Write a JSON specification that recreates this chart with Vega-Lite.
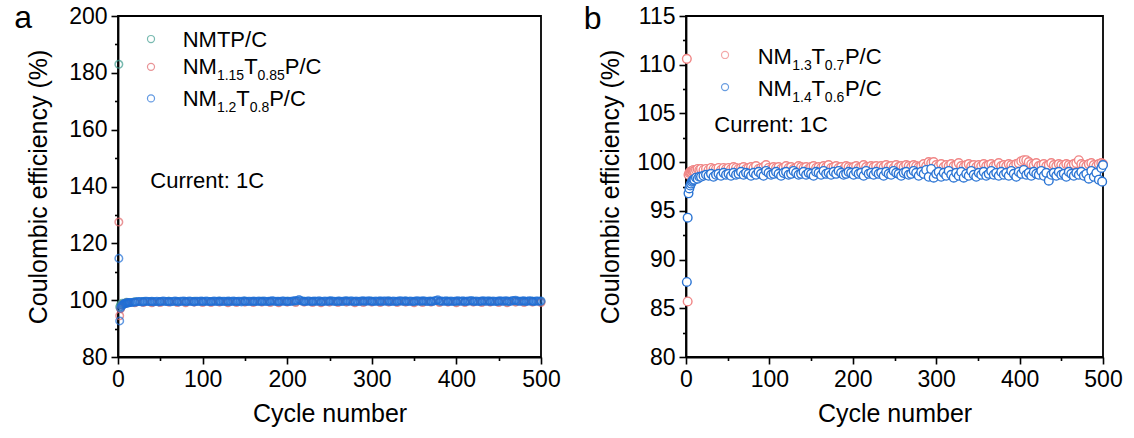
{
"$schema":"https://vega.github.io/schema/vega-lite/v6.json",
"padding":{"left":13,"top":1,"right":5,"bottom":5},
"spacing":20,
"config":{"font":"Liberation Sans","view":{"stroke":"black","strokeWidth":1.8},
"axis":{"domainColor":"black","domainWidth":1.8,"tickColor":"black","tickWidth":1.6,"labelFont":"Liberation Sans","labelFontSize":23,"labelColor":"black","titleFont":"Liberation Sans","titleFontSize":25,"titleFontWeight":"normal","titleColor":"black","grid":false,"labelFlush":false,"labelOverlap":false,"labelPadding":4},
"axisX":{"titlePadding":10},"axisY":{"titlePadding":13}},
"datasets":{
"a":[
{"s":"NMTP","c":1,"v":183.0},{"s":"NMTP","c":2,"v":97.6},{"s":"NMTP","c":3,"v":98.4},{"s":"NMTP","c":5,"v":98.9},
{"s":"NMTP","c":10,"v":99.3},{"s":"NMTP","c":20,"v":99.4},{"s":"NMTP","c":30,"v":99.5},{"s":"NMTP","c":40,"v":99.4},{"s":"NMTP","c":50,"v":99.5},{"s":"NMTP","c":60,"v":99.6},{"s":"NMTP","c":70,"v":99.5},{"s":"NMTP","c":80,"v":99.4},{"s":"NMTP","c":90,"v":99.6},{"s":"NMTP","c":100,"v":99.5},
{"s":"NMTP","c":110,"v":99.5},{"s":"NMTP","c":120,"v":99.6},{"s":"NMTP","c":130,"v":99.4},{"s":"NMTP","c":140,"v":99.5},{"s":"NMTP","c":150,"v":99.6},{"s":"NMTP","c":160,"v":99.5},{"s":"NMTP","c":170,"v":99.6},{"s":"NMTP","c":180,"v":99.5},{"s":"NMTP","c":190,"v":99.4},{"s":"NMTP","c":200,"v":99.6},
{"s":"NMTP","c":210,"v":99.5},{"s":"NMTP","c":220,"v":99.6},{"s":"NMTP","c":230,"v":99.5},{"s":"NMTP","c":240,"v":99.4},{"s":"NMTP","c":250,"v":99.6},{"s":"NMTP","c":260,"v":99.5},{"s":"NMTP","c":270,"v":99.6},{"s":"NMTP","c":280,"v":99.4},{"s":"NMTP","c":290,"v":99.5},{"s":"NMTP","c":300,"v":99.6},
{"s":"NMTP","c":310,"v":99.5},{"s":"NMTP","c":320,"v":99.6},{"s":"NMTP","c":330,"v":99.5},{"s":"NMTP","c":340,"v":99.6},{"s":"NMTP","c":350,"v":99.4},{"s":"NMTP","c":360,"v":99.5},{"s":"NMTP","c":370,"v":99.6},{"s":"NMTP","c":380,"v":99.5},{"s":"NMTP","c":390,"v":99.6},{"s":"NMTP","c":400,"v":99.4},
{"s":"NMTP","c":410,"v":99.5},{"s":"NMTP","c":420,"v":99.6},{"s":"NMTP","c":430,"v":99.5},{"s":"NMTP","c":440,"v":99.6},{"s":"NMTP","c":450,"v":99.5},{"s":"NMTP","c":460,"v":99.4},{"s":"NMTP","c":470,"v":99.6},{"s":"NMTP","c":480,"v":99.5},{"s":"NMTP","c":490,"v":99.6},{"s":"NMTP","c":500,"v":99.5},
{"s":"M115","c":1,"v":127.5},{"s":"M115","c":2,"v":94.5},{"s":"M115","c":3,"v":97.0},{"s":"M115","c":5,"v":98.3},{"s":"M115","c":8,"v":98.8},
{"s":"M115","c":10,"v":99.0},{"s":"M115","c":20,"v":99.1},{"s":"M115","c":30,"v":99.2},{"s":"M115","c":40,"v":99.1},{"s":"M115","c":50,"v":99.2},{"s":"M115","c":60,"v":99.3},{"s":"M115","c":70,"v":99.2},{"s":"M115","c":80,"v":99.1},{"s":"M115","c":90,"v":99.3},{"s":"M115","c":100,"v":99.2},
{"s":"M115","c":110,"v":99.2},{"s":"M115","c":120,"v":99.3},{"s":"M115","c":130,"v":99.1},{"s":"M115","c":140,"v":99.2},{"s":"M115","c":150,"v":99.3},{"s":"M115","c":160,"v":99.2},{"s":"M115","c":170,"v":99.3},{"s":"M115","c":180,"v":99.2},{"s":"M115","c":190,"v":99.1},{"s":"M115","c":200,"v":99.3},
{"s":"M115","c":210,"v":99.2},{"s":"M115","c":220,"v":99.3},{"s":"M115","c":230,"v":99.2},{"s":"M115","c":240,"v":99.1},{"s":"M115","c":250,"v":99.3},{"s":"M115","c":260,"v":99.2},{"s":"M115","c":270,"v":99.3},{"s":"M115","c":280,"v":99.1},{"s":"M115","c":290,"v":99.2},{"s":"M115","c":300,"v":99.3},
{"s":"M115","c":310,"v":99.2},{"s":"M115","c":320,"v":99.3},{"s":"M115","c":330,"v":99.2},{"s":"M115","c":340,"v":99.3},{"s":"M115","c":350,"v":99.1},{"s":"M115","c":360,"v":99.2},{"s":"M115","c":370,"v":99.3},{"s":"M115","c":380,"v":99.2},{"s":"M115","c":390,"v":99.3},{"s":"M115","c":400,"v":99.1},
{"s":"M115","c":410,"v":99.2},{"s":"M115","c":420,"v":99.3},{"s":"M115","c":430,"v":99.2},{"s":"M115","c":440,"v":99.3},{"s":"M115","c":450,"v":99.2},{"s":"M115","c":460,"v":99.1},{"s":"M115","c":470,"v":99.3},{"s":"M115","c":480,"v":99.2},{"s":"M115","c":490,"v":99.3},{"s":"M115","c":500,"v":99.2},
{"s":"M12","c":1,"v":114.7},{"s":"M12","c":2,"v":92.7},{"s":"M12","c":3,"v":97.2},{"s":"M12","c":4,"v":97.8},{"s":"M12","c":5,"v":98.2},{"s":"M12","c":6,"v":98.5},{"s":"M12","c":7,"v":98.7},{"s":"M12","c":8,"v":98.8},{"s":"M12","c":9,"v":98.9},{"s":"M12","c":10,"v":99.0},{"s":"M12","c":11,"v":99.0},{"s":"M12","c":12,"v":99.1},{"s":"M12","c":13,"v":99.1},{"s":"M12","c":14,"v":99.2},{"s":"M12","c":16,"v":99.2},{"s":"M12","c":18,"v":99.3},{"s":"M12","c":20,"v":99.3},
{"s":"M12","c":22,"v":99.4},{"s":"M12","c":26,"v":99.5},{"s":"M12","c":30,"v":99.4},{"s":"M12","c":34,"v":99.6},{"s":"M12","c":38,"v":99.5},{"s":"M12","c":42,"v":99.4},{"s":"M12","c":46,"v":99.6},{"s":"M12","c":50,"v":99.5},{"s":"M12","c":54,"v":99.7},{"s":"M12","c":58,"v":99.5},
{"s":"M12","c":62,"v":99.4},{"s":"M12","c":66,"v":99.6},{"s":"M12","c":70,"v":99.5},{"s":"M12","c":74,"v":99.6},{"s":"M12","c":78,"v":99.7},{"s":"M12","c":82,"v":99.5},{"s":"M12","c":86,"v":99.6},{"s":"M12","c":90,"v":99.4},{"s":"M12","c":94,"v":99.6},{"s":"M12","c":98,"v":99.7},
{"s":"M12","c":102,"v":99.5},{"s":"M12","c":106,"v":99.6},{"s":"M12","c":110,"v":99.5},{"s":"M12","c":114,"v":99.7},{"s":"M12","c":118,"v":99.6},{"s":"M12","c":122,"v":99.5},{"s":"M12","c":126,"v":99.6},{"s":"M12","c":130,"v":99.7},{"s":"M12","c":134,"v":99.5},{"s":"M12","c":138,"v":99.6},
{"s":"M12","c":142,"v":99.6},{"s":"M12","c":146,"v":99.4},{"s":"M12","c":150,"v":99.7},{"s":"M12","c":154,"v":99.6},{"s":"M12","c":158,"v":99.5},{"s":"M12","c":162,"v":99.6},{"s":"M12","c":166,"v":99.7},{"s":"M12","c":170,"v":99.5},{"s":"M12","c":174,"v":99.6},{"s":"M12","c":178,"v":99.6},
{"s":"M12","c":182,"v":99.8},{"s":"M12","c":186,"v":99.5},{"s":"M12","c":190,"v":99.6},{"s":"M12","c":194,"v":99.7},{"s":"M12","c":198,"v":99.5},{"s":"M12","c":202,"v":99.6},{"s":"M12","c":206,"v":99.7},{"s":"M12","c":210,"v":99.9},{"s":"M12","c":214,"v":100.2},{"s":"M12","c":218,"v":99.6},
{"s":"M12","c":222,"v":99.5},{"s":"M12","c":226,"v":99.7},{"s":"M12","c":230,"v":99.6},{"s":"M12","c":234,"v":99.6},{"s":"M12","c":238,"v":99.8},{"s":"M12","c":242,"v":99.5},{"s":"M12","c":246,"v":99.6},{"s":"M12","c":250,"v":99.7},{"s":"M12","c":254,"v":99.6},{"s":"M12","c":258,"v":99.5},
{"s":"M12","c":262,"v":99.7},{"s":"M12","c":266,"v":99.6},{"s":"M12","c":270,"v":99.8},{"s":"M12","c":274,"v":99.6},{"s":"M12","c":278,"v":99.5},{"s":"M12","c":282,"v":99.7},{"s":"M12","c":286,"v":99.6},{"s":"M12","c":290,"v":99.8},{"s":"M12","c":294,"v":99.6},{"s":"M12","c":298,"v":99.7},
{"s":"M12","c":302,"v":99.5},{"s":"M12","c":306,"v":99.6},{"s":"M12","c":310,"v":99.8},{"s":"M12","c":314,"v":99.7},{"s":"M12","c":318,"v":99.6},{"s":"M12","c":322,"v":99.5},{"s":"M12","c":326,"v":99.7},{"s":"M12","c":330,"v":99.6},{"s":"M12","c":334,"v":99.8},{"s":"M12","c":338,"v":99.6},
{"s":"M12","c":342,"v":99.5},{"s":"M12","c":346,"v":99.7},{"s":"M12","c":350,"v":99.6},{"s":"M12","c":354,"v":99.8},{"s":"M12","c":358,"v":99.6},{"s":"M12","c":362,"v":99.7},{"s":"M12","c":366,"v":99.5},{"s":"M12","c":370,"v":99.6},{"s":"M12","c":374,"v":99.8},{"s":"M12","c":378,"v":100.1},
{"s":"M12","c":382,"v":99.7},{"s":"M12","c":386,"v":99.6},{"s":"M12","c":390,"v":99.5},{"s":"M12","c":394,"v":99.7},{"s":"M12","c":398,"v":99.6},{"s":"M12","c":402,"v":99.8},{"s":"M12","c":406,"v":99.6},{"s":"M12","c":410,"v":99.5},{"s":"M12","c":414,"v":99.7},{"s":"M12","c":418,"v":99.9},
{"s":"M12","c":422,"v":99.6},{"s":"M12","c":426,"v":99.5},{"s":"M12","c":430,"v":99.7},{"s":"M12","c":434,"v":99.6},{"s":"M12","c":438,"v":99.8},{"s":"M12","c":442,"v":99.6},{"s":"M12","c":446,"v":99.5},{"s":"M12","c":450,"v":99.7},{"s":"M12","c":454,"v":99.6},{"s":"M12","c":458,"v":99.8},
{"s":"M12","c":462,"v":99.6},{"s":"M12","c":466,"v":99.9},{"s":"M12","c":470,"v":100.0},{"s":"M12","c":474,"v":99.6},{"s":"M12","c":478,"v":99.7},{"s":"M12","c":482,"v":99.5},{"s":"M12","c":486,"v":99.8},{"s":"M12","c":490,"v":99.6},{"s":"M12","c":494,"v":99.7},{"s":"M12","c":498,"v":99.6},{"s":"M12","c":500,"v":99.7},
{"s":"M12","c":24,"v":99.5},{"s":"M12","c":28,"v":99.4},{"s":"M12","c":32,"v":99.6},{"s":"M12","c":36,"v":99.5},{"s":"M12","c":40,"v":99.6},{"s":"M12","c":44,"v":99.5},{"s":"M12","c":48,"v":99.4},{"s":"M12","c":52,"v":99.6},{"s":"M12","c":56,"v":99.5},{"s":"M12","c":60,"v":99.6},
{"s":"M12","c":64,"v":99.5},{"s":"M12","c":68,"v":99.7},{"s":"M12","c":72,"v":99.4},{"s":"M12","c":76,"v":99.6},{"s":"M12","c":80,"v":99.5},{"s":"M12","c":84,"v":99.7},{"s":"M12","c":88,"v":99.5},{"s":"M12","c":92,"v":99.6},{"s":"M12","c":96,"v":99.5},{"s":"M12","c":100,"v":99.6},
{"s":"M12","c":104,"v":99.7},{"s":"M12","c":108,"v":99.5},{"s":"M12","c":112,"v":99.6},{"s":"M12","c":116,"v":99.5},{"s":"M12","c":120,"v":99.7},{"s":"M12","c":124,"v":99.6},{"s":"M12","c":128,"v":99.5},{"s":"M12","c":132,"v":99.6},{"s":"M12","c":136,"v":99.7},{"s":"M12","c":140,"v":99.5},
{"s":"M12","c":144,"v":99.6},{"s":"M12","c":148,"v":99.7},{"s":"M12","c":152,"v":99.5},{"s":"M12","c":156,"v":99.6},{"s":"M12","c":160,"v":99.7},{"s":"M12","c":164,"v":99.5},{"s":"M12","c":168,"v":99.6},{"s":"M12","c":172,"v":99.7},{"s":"M12","c":176,"v":99.5},{"s":"M12","c":180,"v":99.6},
{"s":"M12","c":184,"v":99.7},{"s":"M12","c":188,"v":99.6},{"s":"M12","c":192,"v":99.5},{"s":"M12","c":196,"v":99.7},{"s":"M12","c":200,"v":99.6},{"s":"M12","c":204,"v":99.5},{"s":"M12","c":208,"v":99.7},{"s":"M12","c":212,"v":99.8},{"s":"M12","c":216,"v":99.9},{"s":"M12","c":220,"v":99.6},
{"s":"M12","c":224,"v":99.7},{"s":"M12","c":228,"v":99.5},{"s":"M12","c":232,"v":99.7},{"s":"M12","c":236,"v":99.6},{"s":"M12","c":240,"v":99.5},{"s":"M12","c":244,"v":99.7},{"s":"M12","c":248,"v":99.6},{"s":"M12","c":252,"v":99.8},{"s":"M12","c":256,"v":99.6},{"s":"M12","c":260,"v":99.7},
{"s":"M12","c":264,"v":99.5},{"s":"M12","c":268,"v":99.7},{"s":"M12","c":272,"v":99.6},{"s":"M12","c":276,"v":99.8},{"s":"M12","c":280,"v":99.6},{"s":"M12","c":284,"v":99.5},{"s":"M12","c":288,"v":99.7},{"s":"M12","c":292,"v":99.6},{"s":"M12","c":296,"v":99.8},{"s":"M12","c":300,"v":99.6},
{"s":"M12","c":304,"v":99.7},{"s":"M12","c":308,"v":99.6},{"s":"M12","c":312,"v":99.5},{"s":"M12","c":316,"v":99.7},{"s":"M12","c":320,"v":99.8},{"s":"M12","c":324,"v":99.6},{"s":"M12","c":328,"v":99.5},{"s":"M12","c":332,"v":99.7},{"s":"M12","c":336,"v":99.6},{"s":"M12","c":340,"v":99.8},
{"s":"M12","c":344,"v":99.6},{"s":"M12","c":348,"v":99.5},{"s":"M12","c":352,"v":99.7},{"s":"M12","c":356,"v":99.6},{"s":"M12","c":360,"v":99.8},{"s":"M12","c":364,"v":99.6},{"s":"M12","c":368,"v":99.7},{"s":"M12","c":372,"v":99.5},{"s":"M12","c":376,"v":99.9},{"s":"M12","c":380,"v":99.7},
{"s":"M12","c":384,"v":99.6},{"s":"M12","c":388,"v":99.8},{"s":"M12","c":392,"v":99.6},{"s":"M12","c":396,"v":99.5},{"s":"M12","c":400,"v":99.7},{"s":"M12","c":404,"v":99.6},{"s":"M12","c":408,"v":99.8},{"s":"M12","c":412,"v":99.6},{"s":"M12","c":416,"v":99.7},{"s":"M12","c":420,"v":99.5},
{"s":"M12","c":424,"v":99.7},{"s":"M12","c":428,"v":99.6},{"s":"M12","c":432,"v":99.8},{"s":"M12","c":436,"v":99.6},{"s":"M12","c":440,"v":99.5},{"s":"M12","c":444,"v":99.7},{"s":"M12","c":448,"v":99.6},{"s":"M12","c":452,"v":99.8},{"s":"M12","c":456,"v":99.6},{"s":"M12","c":460,"v":99.7},
{"s":"M12","c":464,"v":99.5},{"s":"M12","c":468,"v":99.8},{"s":"M12","c":472,"v":99.7},{"s":"M12","c":476,"v":99.6},{"s":"M12","c":480,"v":99.8},{"s":"M12","c":484,"v":99.6},{"s":"M12","c":488,"v":99.7},{"s":"M12","c":492,"v":99.5},{"s":"M12","c":496,"v":99.7}
],
"b":[
{"s":"M13","c":1,"v":110.6},{"s":"M13","c":2,"v":85.7},{"s":"M13","c":3,"v":98.7},{"s":"M13","c":4,"v":98.9},{"s":"M13","c":5,"v":99.0},{"s":"M13","c":6,"v":99.0},{"s":"M13","c":7,"v":99.1},{"s":"M13","c":8,"v":99.1},{"s":"M13","c":9,"v":99.2},{"s":"M13","c":10,"v":99.1},{"s":"M13","c":12,"v":99.2},{"s":"M13","c":14,"v":99.3},{"s":"M13","c":16,"v":99.2},{"s":"M13","c":18,"v":99.3},
{"s":"M13","c":21,"v":99.2},{"s":"M13","c":24,"v":99.3},{"s":"M13","c":27,"v":99.2},{"s":"M13","c":30,"v":99.4},{"s":"M13","c":33,"v":99.3},{"s":"M13","c":36,"v":99.3},{"s":"M13","c":39,"v":99.4},{"s":"M13","c":42,"v":99.2},{"s":"M13","c":45,"v":99.4},{"s":"M13","c":48,"v":99.3},
{"s":"M13","c":51,"v":99.4},{"s":"M13","c":54,"v":99.3},{"s":"M13","c":57,"v":99.5},{"s":"M13","c":60,"v":99.4},{"s":"M13","c":63,"v":99.3},{"s":"M13","c":66,"v":99.4},{"s":"M13","c":69,"v":99.5},{"s":"M13","c":72,"v":99.3},{"s":"M13","c":75,"v":99.4},{"s":"M13","c":78,"v":99.5},
{"s":"M13","c":81,"v":99.4},{"s":"M13","c":84,"v":99.6},{"s":"M13","c":87,"v":99.3},{"s":"M13","c":90,"v":99.4},{"s":"M13","c":93,"v":99.5},{"s":"M13","c":96,"v":99.7},{"s":"M13","c":99,"v":99.4},{"s":"M13","c":102,"v":99.3},{"s":"M13","c":105,"v":99.5},{"s":"M13","c":108,"v":99.4},
{"s":"M13","c":111,"v":99.5},{"s":"M13","c":114,"v":99.3},{"s":"M13","c":117,"v":99.4},{"s":"M13","c":120,"v":99.6},{"s":"M13","c":123,"v":99.4},{"s":"M13","c":126,"v":99.5},{"s":"M13","c":129,"v":99.3},{"s":"M13","c":132,"v":99.4},{"s":"M13","c":135,"v":99.6},{"s":"M13","c":138,"v":99.5},
{"s":"M13","c":141,"v":99.4},{"s":"M13","c":144,"v":99.5},{"s":"M13","c":147,"v":99.3},{"s":"M13","c":150,"v":99.5},{"s":"M13","c":153,"v":99.6},{"s":"M13","c":156,"v":99.4},{"s":"M13","c":159,"v":99.5},{"s":"M13","c":162,"v":99.4},{"s":"M13","c":165,"v":99.6},{"s":"M13","c":168,"v":99.5},
{"s":"M13","c":171,"v":99.7},{"s":"M13","c":174,"v":99.4},{"s":"M13","c":177,"v":99.5},{"s":"M13","c":180,"v":99.6},{"s":"M13","c":183,"v":99.4},{"s":"M13","c":186,"v":99.5},{"s":"M13","c":189,"v":99.3},{"s":"M13","c":192,"v":99.6},{"s":"M13","c":195,"v":99.5},{"s":"M13","c":198,"v":99.4},
{"s":"M13","c":201,"v":99.5},{"s":"M13","c":204,"v":99.6},{"s":"M13","c":207,"v":99.4},{"s":"M13","c":210,"v":99.5},{"s":"M13","c":213,"v":99.7},{"s":"M13","c":216,"v":99.5},{"s":"M13","c":219,"v":99.4},{"s":"M13","c":222,"v":99.6},{"s":"M13","c":225,"v":99.5},{"s":"M13","c":228,"v":99.6},
{"s":"M13","c":231,"v":99.4},{"s":"M13","c":234,"v":99.6},{"s":"M13","c":237,"v":99.5},{"s":"M13","c":240,"v":99.7},{"s":"M13","c":243,"v":99.5},{"s":"M13","c":246,"v":99.6},{"s":"M13","c":249,"v":99.4},{"s":"M13","c":252,"v":99.7},{"s":"M13","c":255,"v":99.5},{"s":"M13","c":258,"v":99.6},
{"s":"M13","c":261,"v":99.5},{"s":"M13","c":264,"v":99.7},{"s":"M13","c":267,"v":99.6},{"s":"M13","c":270,"v":99.5},{"s":"M13","c":273,"v":99.7},{"s":"M13","c":276,"v":99.6},{"s":"M13","c":279,"v":99.5},{"s":"M13","c":282,"v":99.6},{"s":"M13","c":285,"v":99.8},{"s":"M13","c":288,"v":99.6},
{"s":"M13","c":291,"v":100.0},{"s":"M13","c":294,"v":99.9},{"s":"M13","c":297,"v":100.0},{"s":"M13","c":300,"v":99.7},{"s":"M13","c":303,"v":99.6},{"s":"M13","c":306,"v":99.8},{"s":"M13","c":309,"v":99.5},{"s":"M13","c":312,"v":99.7},{"s":"M13","c":315,"v":99.6},{"s":"M13","c":318,"v":99.8},
{"s":"M13","c":321,"v":99.6},{"s":"M13","c":324,"v":99.7},{"s":"M13","c":327,"v":99.9},{"s":"M13","c":330,"v":99.6},{"s":"M13","c":333,"v":99.5},{"s":"M13","c":336,"v":99.7},{"s":"M13","c":339,"v":99.8},{"s":"M13","c":342,"v":99.6},{"s":"M13","c":345,"v":99.7},{"s":"M13","c":348,"v":99.5},
{"s":"M13","c":351,"v":99.7},{"s":"M13","c":354,"v":99.6},{"s":"M13","c":357,"v":99.8},{"s":"M13","c":360,"v":99.6},{"s":"M13","c":363,"v":99.7},{"s":"M13","c":366,"v":99.8},{"s":"M13","c":369,"v":99.6},{"s":"M13","c":372,"v":99.7},{"s":"M13","c":375,"v":99.9},{"s":"M13","c":378,"v":99.6},
{"s":"M13","c":381,"v":99.7},{"s":"M13","c":384,"v":99.6},{"s":"M13","c":387,"v":99.8},{"s":"M13","c":390,"v":99.7},{"s":"M13","c":393,"v":99.6},{"s":"M13","c":396,"v":99.8},{"s":"M13","c":399,"v":99.9},{"s":"M13","c":402,"v":100.1},{"s":"M13","c":405,"v":100.2},{"s":"M13","c":408,"v":100.2},
{"s":"M13","c":411,"v":100.0},{"s":"M13","c":414,"v":99.8},{"s":"M13","c":417,"v":99.7},{"s":"M13","c":420,"v":99.9},{"s":"M13","c":423,"v":99.6},{"s":"M13","c":426,"v":99.7},{"s":"M13","c":429,"v":99.8},{"s":"M13","c":432,"v":99.6},{"s":"M13","c":435,"v":99.7},{"s":"M13","c":438,"v":99.9},
{"s":"M13","c":441,"v":99.7},{"s":"M13","c":444,"v":99.6},{"s":"M13","c":447,"v":99.8},{"s":"M13","c":450,"v":99.7},{"s":"M13","c":453,"v":99.6},{"s":"M13","c":456,"v":99.8},{"s":"M13","c":459,"v":99.7},{"s":"M13","c":462,"v":99.6},{"s":"M13","c":465,"v":99.8},{"s":"M13","c":468,"v":99.9},
{"s":"M13","c":471,"v":100.2},{"s":"M13","c":474,"v":99.8},{"s":"M13","c":477,"v":99.7},{"s":"M13","c":480,"v":99.6},{"s":"M13","c":483,"v":99.8},{"s":"M13","c":486,"v":99.9},{"s":"M13","c":489,"v":99.7},{"s":"M13","c":492,"v":99.6},{"s":"M13","c":495,"v":99.8},{"s":"M13","c":498,"v":99.9},{"s":"M13","c":500,"v":99.8},
{"s":"M14","c":1,"v":87.7},{"s":"M14","c":2,"v":94.3},{"s":"M14","c":3,"v":96.8},{"s":"M14","c":4,"v":97.3},{"s":"M14","c":5,"v":97.6},{"s":"M14","c":6,"v":97.8},{"s":"M14","c":7,"v":98.0},{"s":"M14","c":8,"v":98.1},{"s":"M14","c":9,"v":98.2},{"s":"M14","c":10,"v":98.2},{"s":"M14","c":12,"v":98.4},{"s":"M14","c":14,"v":98.3},{"s":"M14","c":16,"v":98.5},{"s":"M14","c":18,"v":98.5},
{"s":"M14","c":21,"v":98.6},{"s":"M14","c":24,"v":98.7},{"s":"M14","c":27,"v":98.6},{"s":"M14","c":30,"v":98.8},{"s":"M14","c":33,"v":98.5},{"s":"M14","c":36,"v":98.7},{"s":"M14","c":39,"v":98.8},{"s":"M14","c":42,"v":98.6},{"s":"M14","c":45,"v":98.9},{"s":"M14","c":48,"v":98.7},
{"s":"M14","c":51,"v":98.8},{"s":"M14","c":54,"v":98.6},{"s":"M14","c":57,"v":98.9},{"s":"M14","c":60,"v":98.7},{"s":"M14","c":63,"v":98.8},{"s":"M14","c":66,"v":99.0},{"s":"M14","c":69,"v":98.7},{"s":"M14","c":72,"v":98.9},{"s":"M14","c":75,"v":98.8},{"s":"M14","c":78,"v":98.6},
{"s":"M14","c":81,"v":98.9},{"s":"M14","c":84,"v":98.7},{"s":"M14","c":87,"v":99.0},{"s":"M14","c":90,"v":98.8},{"s":"M14","c":93,"v":98.6},{"s":"M14","c":96,"v":99.1},{"s":"M14","c":99,"v":98.9},{"s":"M14","c":102,"v":98.7},{"s":"M14","c":105,"v":98.8},{"s":"M14","c":108,"v":99.0},
{"s":"M14","c":111,"v":98.8},{"s":"M14","c":114,"v":98.6},{"s":"M14","c":117,"v":98.9},{"s":"M14","c":120,"v":99.0},{"s":"M14","c":123,"v":98.7},{"s":"M14","c":126,"v":98.8},{"s":"M14","c":129,"v":99.1},{"s":"M14","c":132,"v":98.9},{"s":"M14","c":135,"v":98.7},{"s":"M14","c":138,"v":98.8},
{"s":"M14","c":141,"v":99.0},{"s":"M14","c":144,"v":98.7},{"s":"M14","c":147,"v":98.9},{"s":"M14","c":150,"v":98.8},{"s":"M14","c":153,"v":98.6},{"s":"M14","c":156,"v":99.0},{"s":"M14","c":159,"v":98.9},{"s":"M14","c":162,"v":98.7},{"s":"M14","c":165,"v":99.1},{"s":"M14","c":168,"v":98.8},
{"s":"M14","c":171,"v":98.9},{"s":"M14","c":174,"v":98.7},{"s":"M14","c":177,"v":99.0},{"s":"M14","c":180,"v":98.8},{"s":"M14","c":183,"v":99.1},{"s":"M14","c":186,"v":98.9},{"s":"M14","c":189,"v":98.7},{"s":"M14","c":192,"v":98.8},{"s":"M14","c":195,"v":99.0},{"s":"M14","c":198,"v":98.9},
{"s":"M14","c":201,"v":98.7},{"s":"M14","c":204,"v":99.0},{"s":"M14","c":207,"v":98.8},{"s":"M14","c":210,"v":98.9},{"s":"M14","c":213,"v":98.6},{"s":"M14","c":216,"v":99.1},{"s":"M14","c":219,"v":98.8},{"s":"M14","c":222,"v":98.9},{"s":"M14","c":225,"v":98.7},{"s":"M14","c":228,"v":99.0},
{"s":"M14","c":231,"v":98.8},{"s":"M14","c":234,"v":98.9},{"s":"M14","c":237,"v":98.6},{"s":"M14","c":240,"v":99.0},{"s":"M14","c":243,"v":98.8},{"s":"M14","c":246,"v":98.7},{"s":"M14","c":249,"v":99.1},{"s":"M14","c":252,"v":98.9},{"s":"M14","c":255,"v":98.8},{"s":"M14","c":258,"v":98.6},
{"s":"M14","c":261,"v":98.9},{"s":"M14","c":264,"v":99.0},{"s":"M14","c":267,"v":98.7},{"s":"M14","c":270,"v":98.8},{"s":"M14","c":273,"v":99.1},{"s":"M14","c":276,"v":98.9},{"s":"M14","c":279,"v":98.6},{"s":"M14","c":282,"v":99.0},{"s":"M14","c":285,"v":98.8},{"s":"M14","c":288,"v":99.2},
{"s":"M14","c":291,"v":98.5},{"s":"M14","c":294,"v":99.3},{"s":"M14","c":297,"v":98.4},{"s":"M14","c":300,"v":98.8},{"s":"M14","c":303,"v":99.0},{"s":"M14","c":306,"v":98.5},{"s":"M14","c":309,"v":98.9},{"s":"M14","c":312,"v":98.6},{"s":"M14","c":315,"v":99.1},{"s":"M14","c":318,"v":98.7},
{"s":"M14","c":321,"v":98.4},{"s":"M14","c":324,"v":98.9},{"s":"M14","c":327,"v":98.6},{"s":"M14","c":330,"v":99.0},{"s":"M14","c":333,"v":98.4},{"s":"M14","c":336,"v":98.8},{"s":"M14","c":339,"v":98.6},{"s":"M14","c":342,"v":99.1},{"s":"M14","c":345,"v":98.7},{"s":"M14","c":348,"v":98.5},
{"s":"M14","c":351,"v":98.9},{"s":"M14","c":354,"v":98.7},{"s":"M14","c":357,"v":99.0},{"s":"M14","c":360,"v":98.6},{"s":"M14","c":363,"v":98.8},{"s":"M14","c":366,"v":99.1},{"s":"M14","c":369,"v":98.7},{"s":"M14","c":372,"v":98.9},{"s":"M14","c":375,"v":98.6},{"s":"M14","c":378,"v":99.0},
{"s":"M14","c":381,"v":98.7},{"s":"M14","c":384,"v":98.9},{"s":"M14","c":387,"v":98.6},{"s":"M14","c":390,"v":99.1},{"s":"M14","c":393,"v":98.8},{"s":"M14","c":396,"v":98.5},{"s":"M14","c":399,"v":99.0},{"s":"M14","c":402,"v":98.8},{"s":"M14","c":405,"v":99.2},{"s":"M14","c":408,"v":98.7},
{"s":"M14","c":411,"v":98.9},{"s":"M14","c":414,"v":98.6},{"s":"M14","c":417,"v":99.0},{"s":"M14","c":420,"v":98.8},{"s":"M14","c":423,"v":98.7},{"s":"M14","c":426,"v":99.1},{"s":"M14","c":429,"v":98.6},{"s":"M14","c":432,"v":98.9},{"s":"M14","c":435,"v":98.1},{"s":"M14","c":438,"v":98.7},
{"s":"M14","c":441,"v":98.9},{"s":"M14","c":444,"v":98.6},{"s":"M14","c":447,"v":99.0},{"s":"M14","c":450,"v":98.7},{"s":"M14","c":453,"v":98.8},{"s":"M14","c":456,"v":98.5},{"s":"M14","c":459,"v":99.0},{"s":"M14","c":462,"v":98.8},{"s":"M14","c":465,"v":98.6},{"s":"M14","c":468,"v":98.9},
{"s":"M14","c":471,"v":98.7},{"s":"M14","c":474,"v":99.0},{"s":"M14","c":477,"v":98.6},{"s":"M14","c":480,"v":98.8},{"s":"M14","c":483,"v":98.3},{"s":"M14","c":486,"v":99.1},{"s":"M14","c":489,"v":98.5},{"s":"M14","c":492,"v":98.9},{"s":"M14","c":495,"v":98.2},{"s":"M14","c":498,"v":99.4},{"s":"M14","c":499,"v":98.0},{"s":"M14","c":500,"v":99.7}
],
"ma":[{"s":"NMTP","c":39.0,"v":191.9},{"s":"M115","c":39.0,"v":182.1},{"s":"M12","c":39.0,"v":171.0}],
"mb":[{"s":"M13","c":46.8,"v":111.0},{"s":"M14","c":46.8,"v":107.7}],
"la":[
{"c":76.5,"v":189.2,"t":"NMTP/C","k":"m"},
{"c":76.5,"v":179.6,"t":"NM","k":"m"},{"c":116.9,"v":177.5,"t":"1.15","k":"s"},{"c":149.1,"v":179.6,"t":"T","k":"m"},{"c":164.9,"v":177.5,"t":"0.85","k":"s"},{"c":197.1,"v":179.6,"t":"P/C","k":"m"},
{"c":76.5,"v":168.3,"t":"NM","k":"m"},{"c":116.9,"v":166.3,"t":"1.2","k":"s"},{"c":139.9,"v":168.3,"t":"T","k":"m"},{"c":155.7,"v":166.3,"t":"0.8","k":"s"},{"c":178.7,"v":168.3,"t":"P/C","k":"m"},
{"c":38.2,"v":139.4,"t":"Current: 1C","k":"m"},
{"c":-112,"v":195.8,"t":"a","k":"L"}],
"lb":[
{"c":86.0,"v":110.09,"t":"NM","k":"m"},{"c":127.5,"v":109.41,"t":"1.3","k":"s"},{"c":150.5,"v":110.09,"t":"T","k":"m"},{"c":166.5,"v":109.41,"t":"0.7","k":"s"},{"c":190.5,"v":110.09,"t":"P/C","k":"m"},
{"c":86.0,"v":106.84,"t":"NM","k":"m"},{"c":127.5,"v":106.15,"t":"1.4","k":"s"},{"c":150.5,"v":106.84,"t":"T","k":"m"},{"c":166.5,"v":106.15,"t":"0.6","k":"s"},{"c":190.5,"v":106.84,"t":"P/C","k":"m"},
{"c":33.9,"v":103.06,"t":"Current: 1C","k":"m"},
{"c":-112,"v":113.66,"t":"b","k":"L"}]
},
"hconcat":[
{"width":423,"height":341,
"encoding":{
"x":{"field":"c","type":"quantitative","scale":{"domain":[0,500],"nice":false,"zero":false},
"axis":{"title":"Cycle number","values":[0,50,100,150,200,250,300,350,400,450,500],"labelExpr":"datum.value % 100 == 0 ? datum.label : ''","tickSize":{"condition":{"test":"datum.value % 100 != 0","value":3.5},"value":7}}},
"y":{"field":"v","type":"quantitative","scale":{"domain":[80,200],"nice":false,"zero":false},
"axis":{"title":"Coulombic efficiency (%)","titlePadding":17,"values":[80,90,100,110,120,130,140,150,160,170,180,190,200],"labelExpr":"datum.value % 20 == 0 ? datum.label : ''","tickSize":{"condition":{"test":"datum.value % 20 != 0","value":3.5},"value":7}}}},
"layer":[
{"data":{"name":"a"},"mark":{"type":"point","shape":"circle","size":57,"strokeWidth":1.5,"filled":false},
"encoding":{"stroke":{"field":"s","type":"nominal","scale":{"domain":["NMTP","M115","M12","M13","M14"],"range":["#3f9d8f","#e0676b","#1f6ed6","#f08585","#2a74d4"]},"legend":null}}},
{"data":{"name":"ma"},"mark":{"type":"point","shape":"circle","size":50,"strokeWidth":1.2,"filled":false},
"encoding":{"stroke":{"field":"s","type":"nominal","legend":null}}},
{"data":{"name":"la"},"transform":[{"filter":"datum.k == 'm'"}],"mark":{"type":"text","align":"left","baseline":"alphabetic","fontSize":22,"color":"black"},"encoding":{"text":{"field":"t"}}},
{"data":{"name":"la"},"transform":[{"filter":"datum.k == 's'"}],"mark":{"type":"text","align":"left","baseline":"alphabetic","fontSize":14,"color":"black"},"encoding":{"text":{"field":"t"}}},
{"data":{"name":"la"},"transform":[{"filter":"datum.k == 'L'"}],"mark":{"type":"text","align":"center","baseline":"alphabetic","fontSize":32,"color":"black"},"encoding":{"text":{"field":"t"}}}
]},
{"width":417,"height":341,
"encoding":{
"x":{"field":"c","type":"quantitative","scale":{"domain":[0,500],"nice":false,"zero":false},
"axis":{"title":"Cycle number","values":[0,50,100,150,200,250,300,350,400,450,500],"labelExpr":"datum.value % 100 == 0 ? datum.label : ''","tickSize":{"condition":{"test":"datum.value % 100 != 0","value":3.5},"value":7}}},
"y":{"field":"v","type":"quantitative","scale":{"domain":[80,115],"nice":false,"zero":false},
"axis":{"title":"Coulombic efficiency (%)","values":[80,82.5,85,87.5,90,92.5,95,97.5,100,102.5,105,107.5,110,112.5,115],"labelExpr":"datum.value % 5 == 0 ? datum.label : ''","tickSize":{"condition":{"test":"datum.value % 5 != 0","value":3.5},"value":7}}}},
"layer":[
{"data":{"name":"b"},"mark":{"type":"point","shape":"circle","size":75,"strokeWidth":1.4,"filled":true,"fill":"white","fillOpacity":1},
"encoding":{"stroke":{"field":"s","type":"nominal","scale":{"domain":["NMTP","M115","M12","M13","M14"],"range":["#3f9d8f","#e0676b","#1f6ed6","#f08585","#2a74d4"]},"legend":null}}},
{"data":{"name":"mb"},"mark":{"type":"point","shape":"circle","size":50,"strokeWidth":1.2,"filled":false},
"encoding":{"stroke":{"field":"s","type":"nominal","legend":null}}},
{"data":{"name":"lb"},"transform":[{"filter":"datum.k == 'm'"}],"mark":{"type":"text","align":"left","baseline":"alphabetic","fontSize":22,"color":"black"},"encoding":{"text":{"field":"t"}}},
{"data":{"name":"lb"},"transform":[{"filter":"datum.k == 's'"}],"mark":{"type":"text","align":"left","baseline":"alphabetic","fontSize":14,"color":"black"},"encoding":{"text":{"field":"t"}}},
{"data":{"name":"lb"},"transform":[{"filter":"datum.k == 'L'"}],"mark":{"type":"text","align":"center","baseline":"alphabetic","fontSize":32,"color":"black"},"encoding":{"text":{"field":"t"}}}
]}
]
}
